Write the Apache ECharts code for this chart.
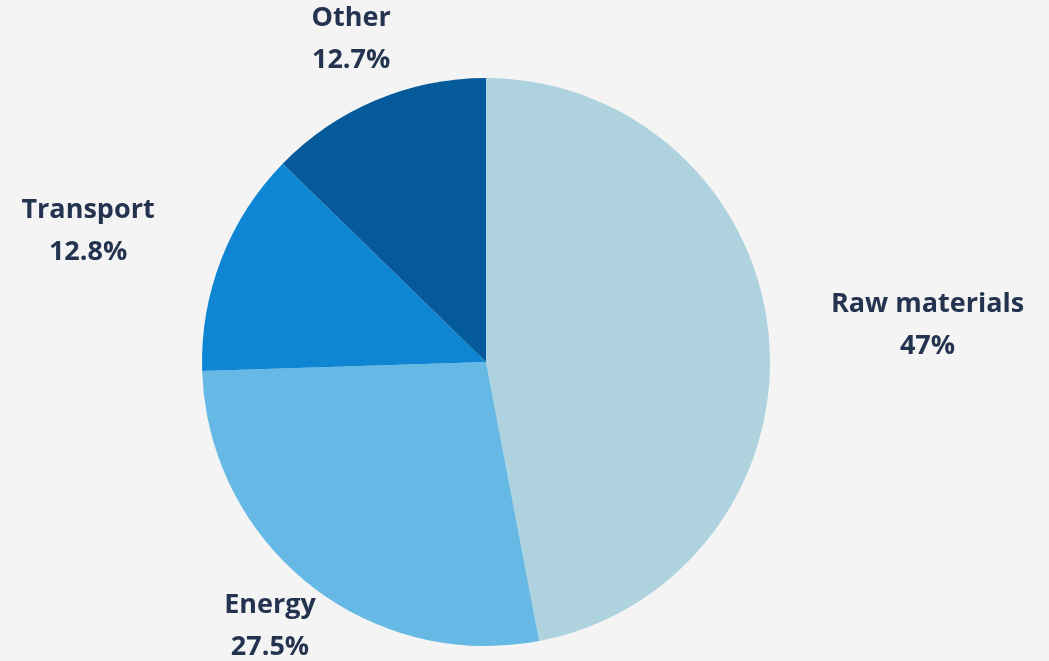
<!DOCTYPE html>
<html>
<head>
<meta charset="utf-8">
<script src="https://cdn.jsdelivr.net/npm/echarts@6/dist/echarts.min.js"></script>
<style>
html,body{margin:0;padding:0;background:#f4f4f4;}
#c{width:1049px;height:661px;}
</style>
</head>
<body>
<div id="c"></div>
<script>
const categories = ['Raw materials', 'Energy', 'Transport', 'Other'];
const values = [47, 27.5, 12.8, 12.7];
const valueLabels = ['47%', '27.5%', '12.8%', '12.7%'];
const colors = ['#aed3df', '#66b9e4', '#0e86d4', '#055a9b'];
const labelRadius = [443, 341, 419, 350];
const labelAngleShift = [0.7, 0.6, -3.0, 0.2];

const CENTER = [0.4633, 0.5477];
const RADIUS = 284;

const chart = echarts.init(document.getElementById('c'));
const total = values.reduce((a, b) => a + b, 0);
const midAngles = [];
let acc = 0;
values.forEach(v => { midAngles.push((acc + v / 2) / total * Math.PI * 2); acc += v; });

chart.setOption({
  backgroundColor: '#f4f4f4',
  animation: false,
  series: [{
    type: 'pie',
    center: [(CENTER[0] * 100) + '%', (CENTER[1] * 100) + '%'],
    radius: RADIUS,
    startAngle: 90,
    clockwise: true,
    avoidLabelOverlap: false,
    itemStyle: { borderWidth: 0 },
    label: {
      show: true,
      position: 'outside',
      formatter: p => p.name + '\n' + valueLabels[p.dataIndex],
      color: '#243450',
      fontFamily: 'Open Sans',
      fontWeight: 'bold',
      fontSize: 27,
      lineHeight: 42,
      align: 'center',
      verticalAlign: 'middle'
    },
    labelLine: { show: false },
    labelLayout: function (params) {
      const i = params.dataIndex;
      const cx = chart.getWidth() * CENTER[0];
      const cy = chart.getHeight() * CENTER[1];
      const a = midAngles[i] + labelAngleShift[i] * Math.PI / 180;
      return {
        x: cx + labelRadius[i] * Math.sin(a),
        y: cy - labelRadius[i] * Math.cos(a),
        align: 'center',
        verticalAlign: 'middle'
      };
    },
    data: categories.map((c, i) => ({ name: c, value: values[i], itemStyle: { color: colors[i] } }))
  }]
});
</script>
</body>
</html>
